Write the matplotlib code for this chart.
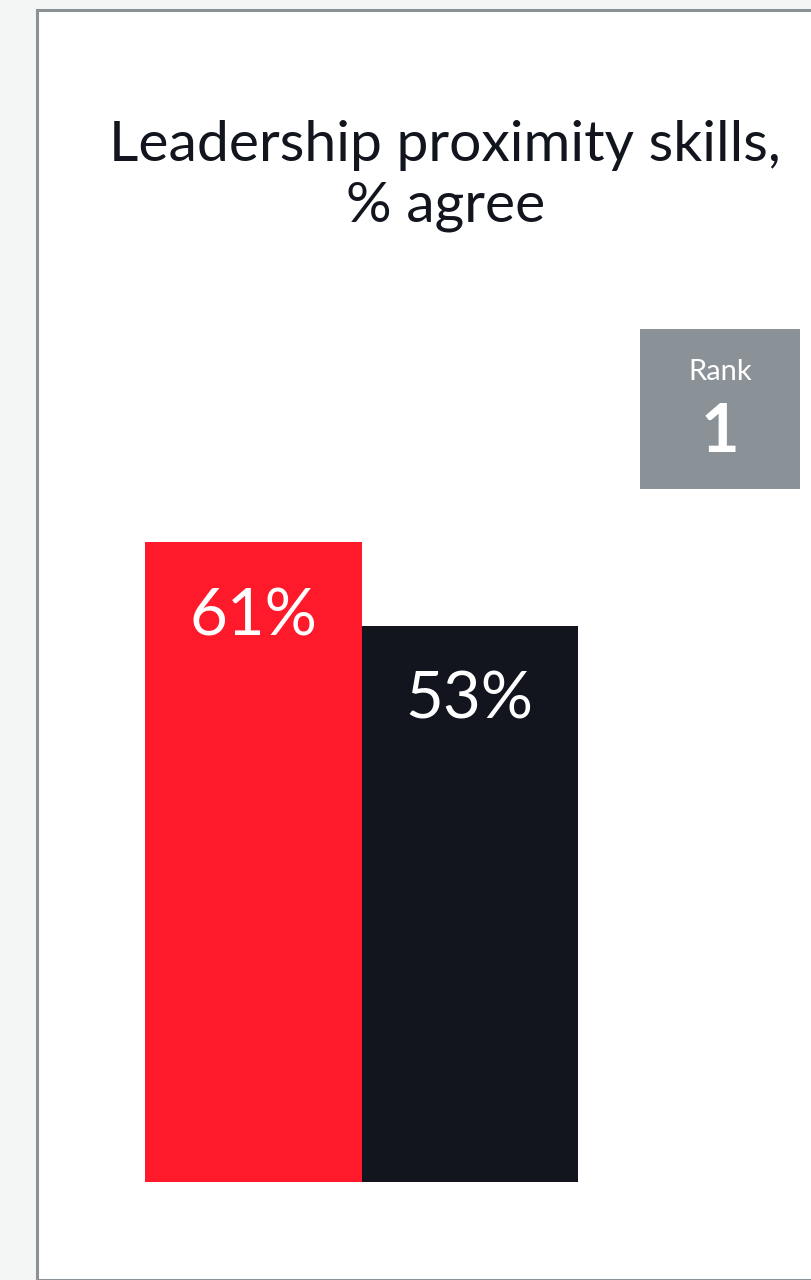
import matplotlib
matplotlib.use("Agg")
import matplotlib.pyplot as plt
from matplotlib.patches import Rectangle
from matplotlib import font_manager

categories = ["Leaders", "Employees"]
values = [61, 53]
bar_colors = ["#ff1a2b", "#12151e"]
title_lines = ["Leadership proximity skills,", "% agree"]
rank_label = "Rank"
rank_value = "1"

W, H = 811, 1280
fig = plt.figure(figsize=(W / 100, H / 100), dpi=100)
fig.patch.set_facecolor("#f4f6f6")

names = {f.name for f in font_manager.fontManager.ttflist}
FONT = "Lato" if "Lato" in names else "DejaVu Sans"

def fx(px):
    return px / W

def fy(py):
    return 1 - py / H

# white panel with grey border
panel = Rectangle((fx(37), 0), 1 - fx(37) + 0.01, fy(10), transform=fig.transFigure,
                  facecolor="white", edgecolor="#8a9298", linewidth=2.2, zorder=0)
fig.patches.append(panel)

# title
fig.text(fx(445), fy(161), title_lines[0], ha="center", va="baseline",
         fontsize=41, color="#12151e", family=FONT, fontweight="normal", zorder=3)
fig.text(fx(446), fy(222), title_lines[1], ha="center", va="baseline",
         fontsize=41, color="#12151e", family=FONT, fontweight="normal", zorder=3)

# rank box
rank_box = Rectangle((fx(640), fy(489)), fx(160), 160 / H, transform=fig.transFigure,
                     facecolor="#8a9298", edgecolor="none", zorder=1)
fig.patches.append(rank_box)
fig.text(fx(720), fy(380), rank_label, ha="center", va="baseline", fontsize=21,
         color="white", family=FONT, fontweight="normal", zorder=3)
fig.text(fx(720), fy(452), rank_value, ha="center", va="baseline", fontsize=48,
         color="white", family=FONT, fontweight="bold", zorder=3)

# bars
ax_left, ax_right = 145, 578
ax_bottom_px = 1182
px_per_unit = (1182 - 542) / values[0]
ax_h = 100 * px_per_unit
ax = fig.add_axes([fx(ax_left), fy(ax_bottom_px), fx(ax_right - ax_left), ax_h / H])
ax.set_zorder(2)
ax.set_xlim(-0.5, len(values) - 0.5)
ax.set_ylim(0, 100)
ax.axis("off")
ax.patch.set_alpha(0)
x = list(range(len(values)))
ax.bar(x, values, width=1.0, color=bar_colors, linewidth=0)
for xi, v in zip(x, values):
    ax.annotate(f"{v}%", xy=(xi, v), xytext=(0, -45), textcoords="offset pixels",
                ha="center", va="top", fontsize=47, color="white",
                family=FONT, fontweight="normal")

fig.savefig("out.png", dpi=100, facecolor=fig.get_facecolor())
